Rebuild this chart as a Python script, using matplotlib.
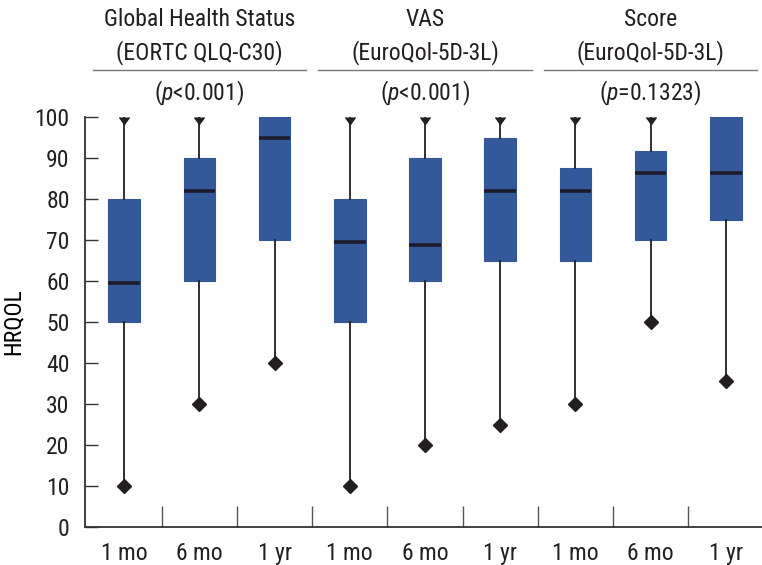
import matplotlib
matplotlib.use("Agg")
import matplotlib.pyplot as plt
from matplotlib import transforms, font_manager

# pick a condensed sans that is present, like the narrow Helvetica in the figure
available = {f.name for f in font_manager.fontManager.ttflist}
FONT = 'DejaVu Sans'
for cand in ['Roboto Condensed', 'Archivo Narrow', 'Liberation Sans Narrow',
             'Fira Sans Condensed', 'IBM Plex Sans Condensed', 'PT Sans Narrow',
             'Sofia Sans Condensed']:
    if cand in available:
        FONT = cand
        break
plt.rcParams['font.family'] = [FONT, 'DejaVu Sans']
if FONT == 'DejaVu Sans':
    plt.rcParams['font.stretch'] = 'condensed'
plt.rcParams['mathtext.fontset'] = 'custom'
plt.rcParams['mathtext.it'] = FONT + ':italic'
plt.rcParams['mathtext.rm'] = FONT
plt.rcParams['text.color'] = '#231f20'
plt.rcParams['xtick.labelcolor'] = '#231f20'
plt.rcParams['ytick.labelcolor'] = '#231f20'

# --- Data ---
time_labels = ["1 mo", "6 mo", "1 yr"] * 3
group_titles = ["Global Health Status\n(EORTC QLQ-C30)",
                "VAS\n(EuroQol-5D-3L)",
                "Score\n(EuroQol-5D-3L)"]
p_values = ["($p$<0.001)", "($p$<0.001)", "($p$=0.1323)"]

whisker_low = [10, 30, 40, 10, 20, 25, 30, 50, 35.5]
q1 = [50, 60, 70, 50, 60, 65, 65, 70, 75]
median = [59.5, 82, 95, 69.4, 68.7, 82, 82, 86.3, 86.3]
q3 = [80, 90, 100, 80, 90, 95, 87.6, 91.7, 100]
whisker_high = [100, 100, 100, 100, 100, 100, 100, 100, 100]

BLUE = "#34599a"
DARK = "#231f20"

fig = plt.figure(figsize=(7.62, 5.65), dpi=100)
ax = fig.add_axes([85 / 762, 38 / 565, 1 - 85 / 762, 410 / 565])

stats = []
for i in range(len(q1)):
    stats.append(dict(whislo=whisker_low[i], q1=q1[i], med=median[i],
                      q3=q3[i], whishi=whisker_high[i], fliers=[]))
pos = list(range(len(stats)))
ax.bxp(stats, positions=pos, widths=0.42, patch_artist=True,
       showcaps=False, showfliers=False,
       boxprops=dict(facecolor=BLUE, edgecolor=BLUE, linewidth=0.8),
       medianprops=dict(color="#1b1d2b", linewidth=2.6, solid_capstyle='butt'),
       whiskerprops=dict(color=DARK, linewidth=1.3), zorder=2)

# whisker ends
ax.plot(pos, whisker_low, linestyle='none', marker='D', markersize=7.5,
        color=DARK, clip_on=False, zorder=3)
top_pos = [p for p in pos if whisker_high[p] > q3[p]]
top_val = [whisker_high[p] for p in top_pos]
ax.plot(top_pos, top_val, linestyle='none', marker=11, markersize=7,
        color=DARK, clip_on=False, zorder=3)

ax.set_ylim(0, 100)
ax.set_xlim(-0.52, 8.48)
ax.set_yticks(range(0, 101, 10))
ax.set_xticks(pos)
ax.set_xticklabels(time_labels)
ax.set_xticks([p + 0.5 for p in pos[:-1]], minor=True)
ax.tick_params(axis='x', which='major', length=0, pad=11, labelsize=17)
ax.tick_params(axis='x', which='minor', direction='in', length=15,
               width=1, color='#555555')
ax.tick_params(axis='y', direction='in', length=9, width=1,
               color='#333333', labelsize=17, pad=11)
for s in ['top', 'right']:
    ax.spines[s].set_visible(False)
for s in ['left', 'bottom']:
    ax.spines[s].set_color('#333333')
    ax.spines[s].set_linewidth(1.3)

ax.set_ylabel("HRQOL", fontsize=17)
ax.yaxis.set_label_coords(-60 / 677, 0.5)

# group headers
trans = transforms.blended_transform_factory(ax.transData, ax.transAxes)
for g in range(3):
    c = 3 * g + 1
    ax.text(c, 1.197, group_titles[g], transform=trans, ha='center',
            va='center', fontsize=17, linespacing=1.45)
    ax.plot([c - 1.42, c + 1.42], [1.115, 1.115], transform=trans,
            color='#777777', linewidth=1, clip_on=False)
    ax.text(c, 1.058, p_values[g], transform=trans, ha='center',
            va='center', fontsize=17)

fig.savefig("out.png", dpi=100)
